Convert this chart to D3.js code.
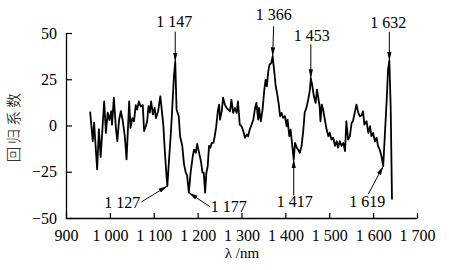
<!DOCTYPE html>
<html>
<head>
<meta charset="utf-8">
<script src="https://d3js.org/d3.v7.min.js"></script>
<style>
  body { margin: 0; background: #fff; }
  text { font-family: "Liberation Serif", "Times New Roman", serif; fill: #000; }
</style>
</head>
<body>
<div id="chart"></div>
<script>
// wavelength (nm) and regression coefficient
var wavelength = [
    955, 961, 964, 971, 975, 979, 987, 991, 995, 999,
    1003, 1005, 1009, 1014, 1017, 1021, 1025, 1029, 1034, 1038,
    1044, 1047, 1051, 1055, 1059, 1062, 1066, 1070, 1075, 1078,
    1082, 1085, 1088, 1091, 1094, 1098, 1102, 1105, 1110, 1115,
    1119, 1122, 1125, 1128, 1131, 1135, 1139, 1142, 1146, 1149,
    1152, 1157, 1160, 1165, 1169, 1173, 1176, 1180, 1184, 1189,
    1192, 1196, 1199, 1204, 1208, 1211, 1214, 1217, 1220, 1223,
    1226, 1229, 1232, 1236, 1239, 1242, 1246, 1249, 1251, 1255,
    1258, 1262, 1266, 1270, 1274, 1277, 1281, 1285, 1289, 1292,
    1296, 1300, 1304, 1308, 1312, 1315, 1319, 1323, 1327, 1331,
    1334, 1338, 1340, 1344, 1348, 1352, 1355, 1358, 1361, 1364,
    1368, 1371, 1375, 1378, 1381, 1385, 1388, 1391, 1395, 1399,
    1403, 1405, 1409, 1412, 1415, 1419, 1422, 1426, 1429, 1433,
    1437, 1441, 1444, 1448, 1452, 1456, 1458, 1461, 1465, 1469,
    1472, 1475, 1478, 1480, 1483, 1486, 1490, 1494, 1498, 1501,
    1505, 1509, 1513, 1517, 1520, 1524, 1528, 1532, 1536, 1539,
    1543, 1547, 1551, 1554, 1558, 1562, 1566, 1570, 1574, 1577,
    1580, 1585, 1589, 1593, 1596, 1600, 1604, 1608, 1611, 1615,
    1619, 1623, 1627, 1631, 1634, 1637, 1640, 1643
];
var coef = [
    7.5, -8.5, 1.6, -23.7, -2, -17, 13, -4, 7, 3,
    7.7, 0.5, 15, -2, -8.5, 3, 7.7, 3, -5.8, -18.3,
    13, -1.3, 4, 2.3, 11, 8.6, 13, 10.4, 11, -3,
    -0.3, 2.3, 10.4, 7, 13, 6, 9.5, 4, 7.7, 15.8,
    6.8, -0.3, -13, -23.7, -32.7, -18, -4, 8.6, 26.6, 34.5,
    8.6, 5, -5.8, -11, -21, -25.5, -27, -36.3, -25.5, -16.5,
    -13, -14.7, -10, -15.5, -20, -25.5, -25.5, -36.3, -25.5, -22,
    -11, -12, -9.4, -9.4, -5.8, -1.3, 7.7, 11.3, 3.2, 7.7,
    15, 11.3, 9.5, 8.6, 7.7, 14, 6.8, 9.5, 6.8, 13,
    0.5, -0.4, -3, -6.6, -4.9, -5.8, -2, 0.5, 3.2, 9.5,
    12.2, 3.2, 9.5, 2.3, 8.6, 19.4, 24.8, 21.2, 29.3, 33,
    33.8, 37.4, 28.4, 21.2, 17.6, 11.3, 5, 6.8, 4.1, 5,
    -0.4, 3.2, -5.8, -2.2, -9.4, -18.3, -9.4, -12, -13, -14.7,
    -11, -2.2, 7, 9.5, 14, 19.4, 25.5, 22, 15.8, 12.2,
    19.4, 15, 10.4, 2.3, 11.3, 8.6, 3.2, -2.2, -5.8, -3.9,
    -7.6, -6.6, -11, -8.5, -12, -8.5, -11, -9.4, -13.8, 2.3,
    -7.6, -5.8, 1.4, 2.3, 6.8, 11.3, 7, 5, 5.5, 7.7,
    0.5, 2.3, -4, -0.4, -5.8, -4, -8.5, -6.6, -11, -13,
    -16.5, -22, -3.9, 14, 30, 35, 10, -40
];

var xTicks = [900, 1000, 1100, 1200, 1300, 1400, 1500, 1600, 1700];
var yTicks = [-50, -25, 0, 25, 50];

// annotated characteristic wavelengths and the data point each arrow points at
var annLabels = ["1 147", "1 366", "1 453", "1 632", "1 127", "1 177", "1 417", "1 619"];
var annAt = [1149, 1371, 1458, 1637, 1131, 1180, 1419, 1623];

var width = 449;
var height = 270;

var svg = d3.select("#chart")
    .append("svg")
    .attr("width", width)
    .attr("height", height);

var x = d3.scaleLinear().domain([900, 1700]).range([66, 417]);
var y = d3.scaleLinear().domain([-50, 50]).range([218, 33]);

// x axis, ticks pointing inward
var xAxis = svg.append("g")
    .attr("transform", "translate(0," + y(-50) + ")")
    .call(d3.axisBottom(x)
        .tickValues(xTicks)
        .tickSizeInner(-5)
        .tickSizeOuter(0)
        .tickFormat(d => d3.format(",")(d).replace(",", " ")));
xAxis.select(".domain").attr("stroke-width", 1.3);
xAxis.selectAll(".tick line").attr("stroke-width", 1.2);
xAxis.selectAll(".tick text")
    .attr("y", 12)
    .attr("font-size", 16)
    .attr("font-family", "Liberation Serif");

// y axis
var yAxis = svg.append("g")
    .attr("transform", "translate(" + x(900) + ",0)")
    .call(d3.axisLeft(y)
        .tickValues(yTicks)
        .tickSizeInner(-6)
        .tickSizeOuter(0)
        .tickFormat(d => d < 0 ? "\u2212" + Math.abs(d) : d));
yAxis.select(".domain").attr("stroke-width", 1.3);
yAxis.selectAll(".tick line").attr("stroke-width", 1.2);
yAxis.selectAll(".tick text")
    .attr("x", -9)
    .attr("font-size", 16)
    .attr("font-family", "Liberation Serif");

svg.append("text")
    .attr("x", 242)
    .attr("y", 258)
    .attr("text-anchor", "middle")
    .attr("font-size", 15)
    .text("\u03bb /nm");

svg.append("text")
    .attr("transform", "translate(19,126) rotate(-90)")
    .attr("text-anchor", "middle")
    .attr("font-size", 15)
    .attr("letter-spacing", 3)
    .style("font-family", "'Noto Sans CJK SC'")
    .style("font-weight", 300)
    .text("回归系数");

// the curve
var pts = wavelength.map((w, i) => ({ w: w, v: coef[i] }));
svg.append("path")
    .datum(pts)
    .attr("fill", "none")
    .attr("stroke", "#000")
    .attr("stroke-width", 1.8)
    .attr("stroke-linejoin", "round")
    .attr("d", d3.line()
        .x(d => x(d.w))
        .y(d => y(d.v)));

// arrow marker
svg.append("defs").append("marker")
    .attr("id", "head")
    .attr("viewBox", "0 0 10 10")
    .attr("refX", 10)
    .attr("refY", 5)
    .attr("markerUnits", "userSpaceOnUse")
    .attr("markerWidth", 9)
    .attr("markerHeight", 9)
    .attr("orient", "auto")
    .append("path")
    .attr("d", "M0,2.6 L10,5 L0,7.4 Z")
    .attr("fill", "#000");

// tail offset from tip, then text offset from tail
var annLayout = [
    { dx: 0, dy: -30, tx: -1, ty: -5, anchor: "middle" },
    { dx: 1, dy: -30, tx: 0, ty: -6, anchor: "middle" },
    { dx: 0, dy: -34, tx: 1, ty: -3, anchor: "middle" },
    { dx: 0, dy: -29, tx: -1, ty: -4, anchor: "middle" },
    { dx: -26, dy: 16, tx: -1, ty: 6, anchor: "end" },
    { dx: 21, dy: 14, tx: 1, ty: 5, anchor: "start" },
    { dx: 0, dy: 36, tx: 1, ty: 12, anchor: "middle" },
    { dx: -15, dy: 28, tx: -1, ty: 13, anchor: "middle" }
];

var ann = annLabels.map((t, i) => {
    var k = wavelength.indexOf(annAt[i]);
    return { label: t, px: x(wavelength[k]), py: y(coef[k]), lay: annLayout[i] };
});

svg.selectAll(".ann-line")
    .data(ann)
    .join("line")
    .attr("class", "ann-line")
    .attr("x1", d => d.px + d.lay.dx)
    .attr("y1", d => d.py + d.lay.dy)
    .attr("x2", d => d.px)
    .attr("y2", d => d.py)
    .attr("stroke", "#000")
    .attr("stroke-width", 1)
    .attr("marker-end", "url(#head)");

svg.selectAll(".ann-text")
    .data(ann)
    .join("text")
    .attr("class", "ann-text")
    .attr("x", d => d.px + d.lay.dx + d.lay.tx)
    .attr("y", d => d.py + d.lay.dy + d.lay.ty)
    .attr("text-anchor", d => d.lay.anchor)
    .attr("font-size", 16)
    .text(d => d.label);
</script>
</body>
</html>
